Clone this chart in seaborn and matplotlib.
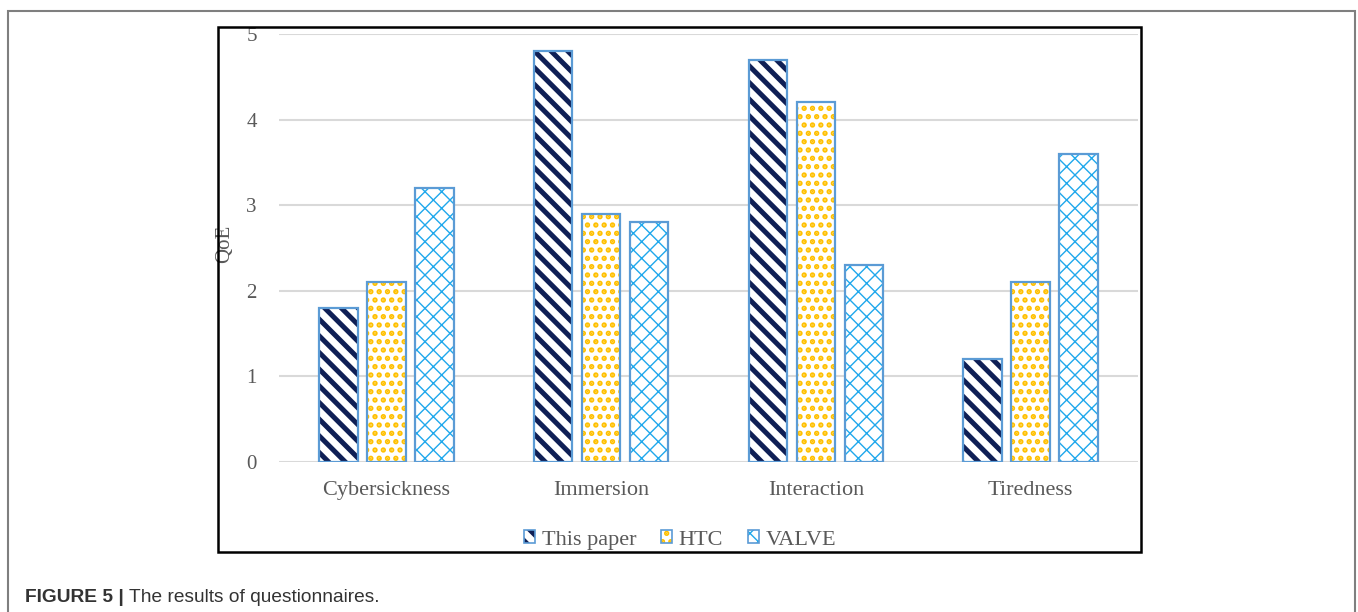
import matplotlib
matplotlib.use("Agg")
import matplotlib.pyplot as plt
import matplotlib.patches as mpatches
from matplotlib.legend_handler import HandlerTuple, HandlerPatch
import seaborn as sns
import pandas as pd

# Questionnaire results (QoE scores) per aspect and headset setup
aspects = ["Cybersickness", "Immersion", "Interaction", "Tiredness"]
methods = ["This paper", "HTC", "VALVE"]
this_paper = [1.8, 4.8, 4.7, 1.2]
htc = [2.1, 2.9, 4.2, 2.1]
valve = [3.2, 2.8, 2.3, 3.6]
y_ticks = [0, 1, 2, 3, 4, 5]

df = pd.DataFrame({
    "aspect": aspects * 3,
    "method": [m for m in methods for _ in aspects],
    "score": this_paper + htc + valve,
})

sns.set_theme(style="white")
plt.rcParams["font.family"] = ["Liberation Serif", "DejaVu Serif"]

hatch_styles = {"This paper": "\\\\", "HTC": "..", "VALVE": "xx"}
hatch_colors = {"This paper": "#0F1F55", "HTC": "#FFC000", "VALVE": "#1FA8EC"}
hatch_widths = {"This paper": 3.6, "HTC": 2.6, "VALVE": 1.0}
border_color = "#5B9BD5"
text_gray = "#595959"


class HatchKeyHandler(HandlerPatch):
    """Legend key that keeps the hatch line width of its source patch."""

    def create_artists(self, legend, orig_handle, xdescent, ydescent, width,
                       height, fontsize, trans):
        artists = super().create_artists(legend, orig_handle, xdescent, ydescent,
                                         width, height, fontsize, trans)
        if hasattr(orig_handle, "get_hatch_linewidth"):
            for a in artists:
                a.set_hatch_linewidth(orig_handle.get_hatch_linewidth())
        return artists


fig = plt.figure(figsize=(13.58, 6.12), dpi=100)
ax = fig.add_axes([279 / 1358, 1 - 462 / 612, (1138 - 279) / 1358, (462 - 34) / 612])

# Pattern layer: white bars carrying the coloured hatch
sns.barplot(data=df, x="aspect", y="score", hue="method", order=aspects,
            hue_order=methods, palette={m: "white" for m in methods},
            saturation=1, width=0.67, gap=0.2, linewidth=0, legend=False,
            errorbar=None, ax=ax)
for method, container in zip(methods, ax.containers):
    for bar in container:
        bar.set_hatch(hatch_styles[method])
        bar.set_edgecolor(hatch_colors[method])
        bar.set_linewidth(0)
        if hasattr(bar, "set_hatch_linewidth"):
            bar.set_hatch_linewidth(hatch_widths[method])

# Outline layer: blue borders on top
sns.barplot(data=df, x="aspect", y="score", hue="method", order=aspects,
            hue_order=methods, palette={m: border_color for m in methods},
            saturation=1, width=0.67, gap=0.2, fill=False, linewidth=1.6,
            legend=False, errorbar=None, ax=ax)

ax.set_ylim(0, 5)
ax.set_xlim(-0.5, 3.5)
ax.set_yticks(y_ticks)
ax.set_yticklabels([str(t) for t in y_ticks])
ax.grid(axis="y", color="#D9D9D9", linewidth=1.5)
ax.set_axisbelow(True)
for s in ax.spines.values():
    s.set_visible(False)
ax.tick_params(axis="y", length=0, pad=16, labelsize=15, labelcolor=text_gray)
ax.tick_params(axis="x", length=0, pad=14, labelsize=16, labelcolor=text_gray)
ax.set_xlabel("")
ax.set_ylabel("QoE", fontsize=15, color=text_gray)
ax.yaxis.set_label_coords(-0.052, 0.51)

# Legend with patterned square keys
handles = []
for m in methods:
    fill = mpatches.Patch(facecolor="white", edgecolor=hatch_colors[m],
                          hatch=hatch_styles[m], linewidth=0)
    if hasattr(fill, "set_hatch_linewidth"):
        fill.set_hatch_linewidth(hatch_widths[m])
    edge = mpatches.Patch(facecolor="none", edgecolor=border_color, linewidth=1.2)
    handles.append((fill, edge))
leg = fig.legend(handles, methods,
                 handler_map={tuple: HandlerTuple(ndivide=1, pad=0),
                              mpatches.Patch: HatchKeyHandler()},
                 loc="center", bbox_to_anchor=(680 / 1358, 1 - 540 / 612), ncol=3,
                 frameon=False, fontsize=16, handlelength=0.5, handleheight=0.5,
                 handletextpad=0.3, columnspacing=1.1, labelcolor=text_gray)

# Chart frame and outer figure frame
fig.add_artist(mpatches.Rectangle((218 / 1358, 1 - 552 / 612), (1141 - 218) / 1358,
                                  (552 - 27) / 612, transform=fig.transFigure,
                                  fill=False, edgecolor="black", linewidth=1.8))
fig.add_artist(mpatches.Rectangle((8 / 1358, -0.05), (1355 - 8) / 1358,
                                  1.05 - 11 / 612, transform=fig.transFigure,
                                  fill=False, edgecolor="#7F7F7F", linewidth=1.5))

# Caption
cap_y = 1 - 598 / 612
t1 = fig.text(25 / 1358, cap_y, "FIGURE 5 |", family=["Liberation Sans"], fontsize=13.8,
              fontweight="bold", color="#333333", va="center", ha="left")
fig.canvas.draw()
bb = t1.get_window_extent()
fig.text((bb.x1 + 5) / 1358, cap_y, "The results of questionnaires.",
         family=["Liberation Sans"], fontsize=13.8, color="#333333", va="center", ha="left")

fig.savefig("out.png", dpi=100, facecolor="white")
